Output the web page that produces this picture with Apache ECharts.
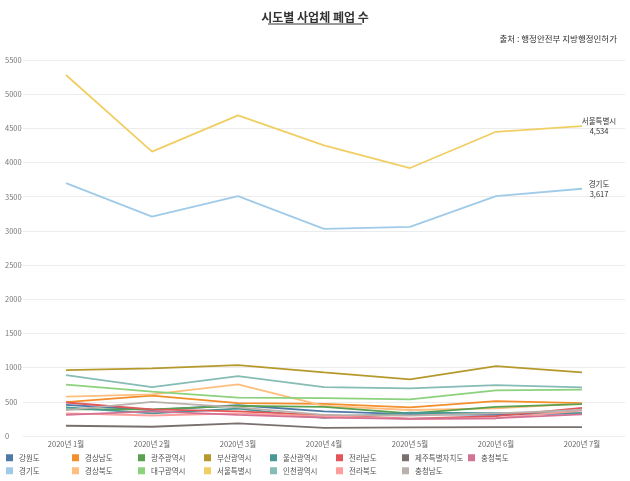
<!DOCTYPE html>
<html>
<head>
<meta charset="utf-8">
<script src="https://cdn.jsdelivr.net/npm/echarts@6/dist/echarts.min.js"></script>
<style>
  html, body { margin: 0; padding: 0; background: #fff; }
  #chart { width: 630px; height: 481px; }
</style>
</head>
<body>
<div id="chart"></div>
<script>
// 월
const months = ['2020년 1월', '2020년 2월', '2020년 3월', '2020년 4월', '2020년 5월', '2020년 6월', '2020년 7월'];

// 시도별 폐업 수
const gangwon   = [455, 380, 450, 360, 320, 310, 330];
const gyeonggi  = [3700, 3210, 3510, 3030, 3060, 3510, 3617];
const gyeongnam = [495, 590, 480, 470, 420, 510, 480];
const gyeongbuk = [575, 610, 755, 440, 380, 405, 475];
const gwangju   = [390, 390, 440, 425, 330, 425, 465];
const daegu     = [750, 650, 560, 555, 536, 668, 677];
const busan     = [965, 990, 1038, 930, 828, 1023, 931];
const seoul     = [5280, 4160, 4690, 4250, 3920, 4450, 4534];
const ulsan     = [420, 330, 400, 265, 340, 335, 335];
const incheon   = [890, 715, 877, 715, 697, 743, 712];
const jeonnam   = [490, 390, 360, 305, 255, 290, 410];
const jeonbuk   = [330, 300, 330, 290, 250, 260, 370];
const jeju      = [150, 135, 185, 120, 125, 130, 130];
const chungnam  = [380, 500, 420, 310, 300, 330, 380];
const chungbuk  = [310, 360, 310, 270, 250, 260, 315];

const regions = [
    {name: '강원도', data: gangwon, color: '#4E79A7'},
    {name: '경기도', data: gyeonggi, color: '#A0CBE8'},
    {name: '경상남도', data: gyeongnam, color: '#F28E2B'},
    {name: '경상북도', data: gyeongbuk, color: '#FFBE7D'},
    {name: '광주광역시', data: gwangju, color: '#59A14F'},
    {name: '대구광역시', data: daegu, color: '#8CD17D'},
    {name: '부산광역시', data: busan, color: '#B6992D'},
    {name: '서울특별시', data: seoul, color: '#F1CE63'},
    {name: '울산광역시', data: ulsan, color: '#499894'},
    {name: '인천광역시', data: incheon, color: '#86BCB6'},
    {name: '전라남도', data: jeonnam, color: '#E15759'},
    {name: '전라북도', data: jeonbuk, color: '#FF9D9A'},
    {name: '제주특별자치도', data: jeju, color: '#79706E'},
    {name: '충청남도', data: chungnam, color: '#BAB0AC'},
    {name: '충청북도', data: chungbuk, color: '#D37295'},
];
const labeled = ['서울특별시', '경기도'];

const font = '"Noto Sans CJK KR", "Noto Sans", sans-serif';

// 범례: 열 단위 (위/아래 두 줄)
let legends = regions.map((r, i) => ({
    left: 1 + 66 * Math.floor(i / 2),
    top: i % 2 === 0 ? 449 : 462,
    itemWidth: 7,
    itemHeight: 7,
    icon: 'rect',
    selectedMode: false,
    textStyle: {fontFamily: font, fontSize: 7.5, color: '#555', padding: [0, 0, 0, 1]},
    data: [r.name]
}));

const myChart = echarts.init(document.getElementById('chart'));
myChart.setOption({
    animation: false,
    color: regions.map(r => r.color),
    title: [
        {
            text: '시도별 사업체 폐업 수',
            left: 'center',
            top: 6,
            textStyle: {fontFamily: font, fontSize: 12, fontWeight: 'bold', color: '#333'}
        },
        {
            text: '출처 : 행정안전부 지방행정인허가',
            right: 8,
            top: 30,
            textStyle: {fontFamily: font, fontSize: 8.5, fontWeight: 'normal', color: '#333'}
        }
    ],
    graphic: [{
        type: 'line',
        shape: {x1: 268, y1: 24, x2: 362, y2: 24},
        style: {stroke: '#333', lineWidth: 1}
    }],
    legend: legends,
    grid: {left: 23, right: 5, top: 60, bottom: 45},
    xAxis: {
        type: 'category',
        data: months,
        boundaryGap: true,
        axisLine: {show: false},
        axisTick: {show: false},
        axisLabel: {fontFamily: font, fontSize: 7.5, color: '#666', margin: 4}
    },
    yAxis: {
        type: 'value',
        min: 0,
        max: 5500,
        interval: 500,
        axisLabel: {fontFamily: font, fontSize: 7.5, color: '#777', align: 'left', margin: 18, formatter: v => String(v)},
        splitLine: {lineStyle: {color: '#ececec', width: 1}}
    },
    series: regions.map(r => ({
        name: r.name,
        type: 'line',
        data: r.data,
        showSymbol: false,
        lineStyle: {width: 1.8, color: r.color},
        itemStyle: {color: r.color},
        endLabel: {
            show: labeled.indexOf(r.name) >= 0,
            formatter: p => p.seriesName + '\n' + p.value.toLocaleString('en-US'),
            fontFamily: font,
            fontSize: 7.5,
            lineHeight: 10,
            color: '#333',
            align: 'center',
            distance: 17
        }
    }))
});
</script>
</body>
</html>
